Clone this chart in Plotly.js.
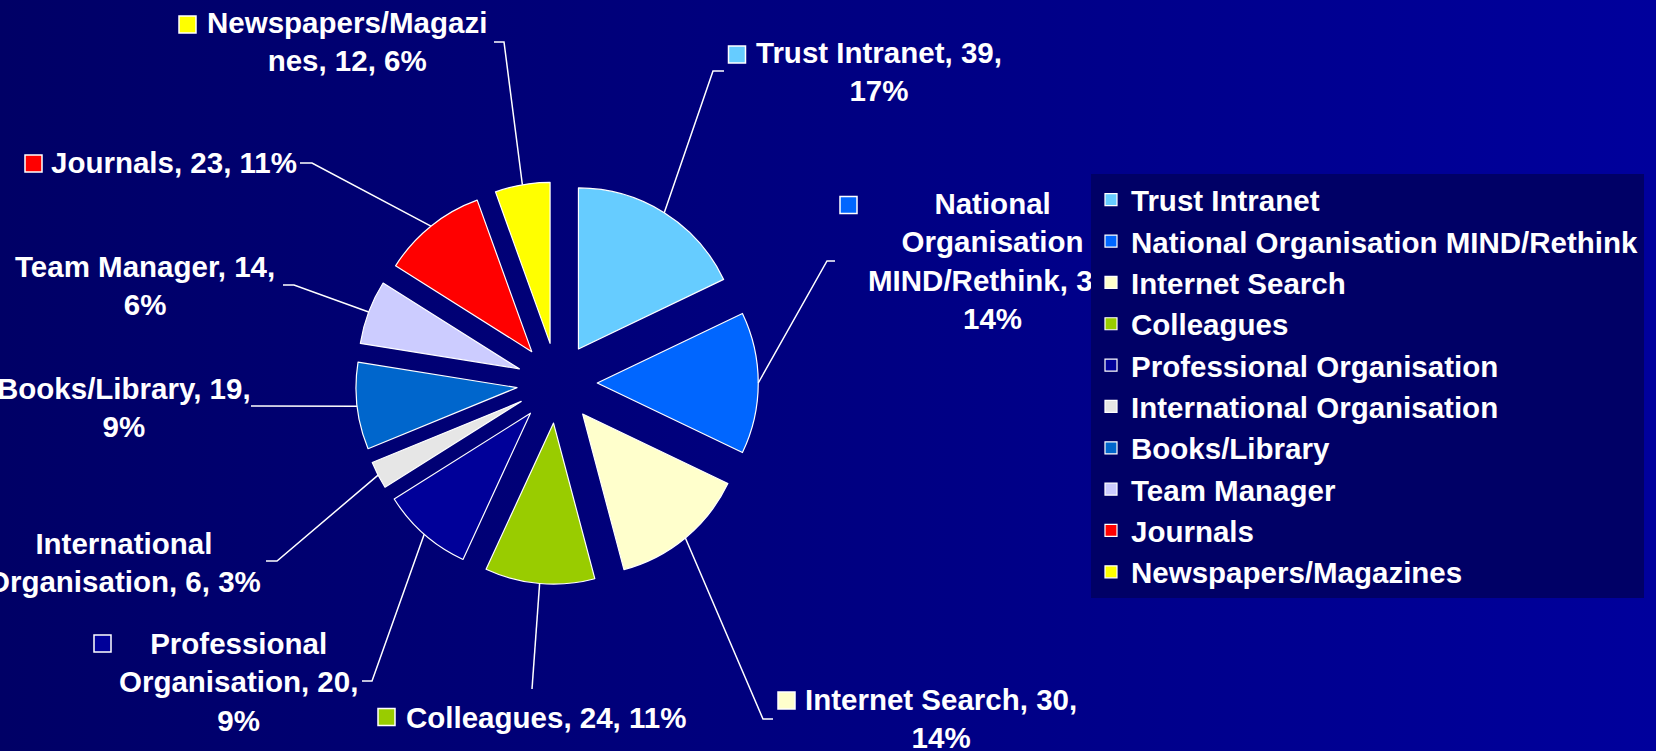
<!DOCTYPE html>
<html><head><meta charset="utf-8">
<script src="https://cdn.plot.ly/plotly-3.0.1.min.js"></script>
<style>
html,body{margin:0;padding:0;width:1656px;height:751px;overflow:hidden;background:linear-gradient(to right,#000066,#00009c);}
#chart{width:1656px;height:751px;}
</style></head><body><div id="chart"></div>
<script>
// ---- data ----
const categories = ["Trust Intranet","National Organisation MIND/Rethink","Internet Search","Colleagues","Professional Organisation","International Organisation","Books/Library","Team Manager","Journals","Newspapers/Magazines"];
const values = [39,31,30,24,20,6,19,14,23,12];
const percentLabels = ["17%","14%","14%","11%","9%","3%","9%","6%","11%","6%"];

// ---- styles / layout ----
const sliceColors = ["#66CCFF","#0066FF","#FFFFCC","#99CC00","#000099","#E6E6E6","#0066CC","#CCCCFF","#FF0000","#FFFF00"];
const W = 1656, H = 751;
const PIE = {cx:557, cy:383, r:161, pull:0.25};
const FONT = {family:"'Liberation Sans', Arial, sans-serif", size:29.5, color:"#ffffff", weight:"bold"};
// label box centre, key square centre, leader-line points (pixels), wrap positions
const labelLayout = [
  {x:879, y:71,  sq:[737,54.5],  path:[[713,71],[724,71]],   wrap:[],     pctBreak:true},
  {x:992, y:261, sq:[848.5,205], path:[[827,261],[835,261]], wrap:[8,21], pctBreak:true},
  {x:941, y:718, sq:[786.5,700.5], path:[[763,719],[773,719]], wrap:[],   pctBreak:true},
  {x:546, y:717, sq:[386.5,717], path:[[532,689]],            wrap:[],     pctBreak:false},
  {x:238, y:682, sq:[102.5,643.5], path:[[372,681],[362,681]], wrap:[12], pctBreak:true},
  {x:124, y:562, sq:null,        path:[[277,561],[266,561]], wrap:[13],   pctBreak:false},
  {x:124, y:407, sq:null,        path:[[251,406]],            wrap:[],     pctBreak:true},
  {x:145, y:285, sq:null,        path:[[294,285],[283,285]], wrap:[],     pctBreak:true},
  {x:174, y:162, sq:[33.5,163.5], path:[[312,163],[300,163]], wrap:[],    pctBreak:false},
  {x:347, y:42,  sq:[187.5,24.5], path:[[504,42],[494,42]],   wrap:[17],   pctBreak:false}
];

function wrapName(name, idx){
  let out = "", last = 0;
  idx.forEach(i => {
    out += name.slice(last, i) + "<br>";
    last = (name[i] === " ") ? i + 1 : i;
  });
  return out + name.slice(last);
}
const px = x => x / W, py = y => 1 - y / H;

const total = values.reduce((a,b)=>a+b,0);
const R = PIE.r * (1 + PIE.pull);
let cum = 0;
const shapes = [], annotations = [];
values.forEach((v,i) => {
  const mid = (cum + v/2) / total * 2 * Math.PI;
  cum += v;
  const ax = PIE.cx + R * Math.sin(mid), ay = PIE.cy - R * Math.cos(mid);
  const L = labelLayout[i];
  let d = "M" + px(ax) + "," + py(ay);
  L.path.forEach(p => { d += " L" + px(p[0]) + "," + py(p[1]); });
  shapes.push({type:"path", xref:"paper", yref:"paper", path:d, line:{color:"#ffffff", width:1.5}});
  if (L.sq) {
    const s = 8.5;
    shapes.push({type:"rect", xref:"paper", yref:"paper",
      x0:px(L.sq[0]-s), x1:px(L.sq[0]+s), y0:py(L.sq[1]+s), y1:py(L.sq[1]-s),
      fillcolor:sliceColors[i], line:{color:"#ffffff", width:1.5}});
  }
  const text = wrapName(categories[i], L.wrap) + ", " + v + "," + (L.pctBreak ? "<br>" : " ") + percentLabels[i];
  annotations.push({xref:"paper", yref:"paper", x:px(L.x), y:py(L.y), xanchor:"center", yanchor:"middle",
    text:text, showarrow:false, align:"center", font:FONT});
});

const trace = {
  type:"pie", labels:categories, values:values, sort:false, direction:"clockwise", rotation:0,
  pull: values.map(()=>PIE.pull),
  marker:{colors:sliceColors, line:{color:"#ffffff", width:1.2}},
  textinfo:"none", hoverinfo:"label+value+percent",
  domain:{x:[px(PIE.cx-R), px(PIE.cx+R)], y:[py(PIE.cy+R), py(PIE.cy-R)]}
};

const layout = {
  width:W, height:H, margin:{l:0,r:0,t:0,b:0},
  paper_bgcolor:"rgba(0,0,0,0)", plot_bgcolor:"rgba(0,0,0,0)",
  showlegend:true,
  legend:{x:px(1091), y:py(174), xanchor:"left", yanchor:"top", bgcolor:"#000066",
    borderwidth:0, font:FONT, traceorder:"normal"},
  shapes:shapes, annotations:annotations
};

Plotly.newPlot("chart", [trace], layout, {displayModeBar:false}).then(gd => {
  // legend box sits above the data labels, as in the original
  const leg = gd.querySelector("g.legend");
  if (leg) leg.parentNode.appendChild(leg);
});
</script>
</body></html>
